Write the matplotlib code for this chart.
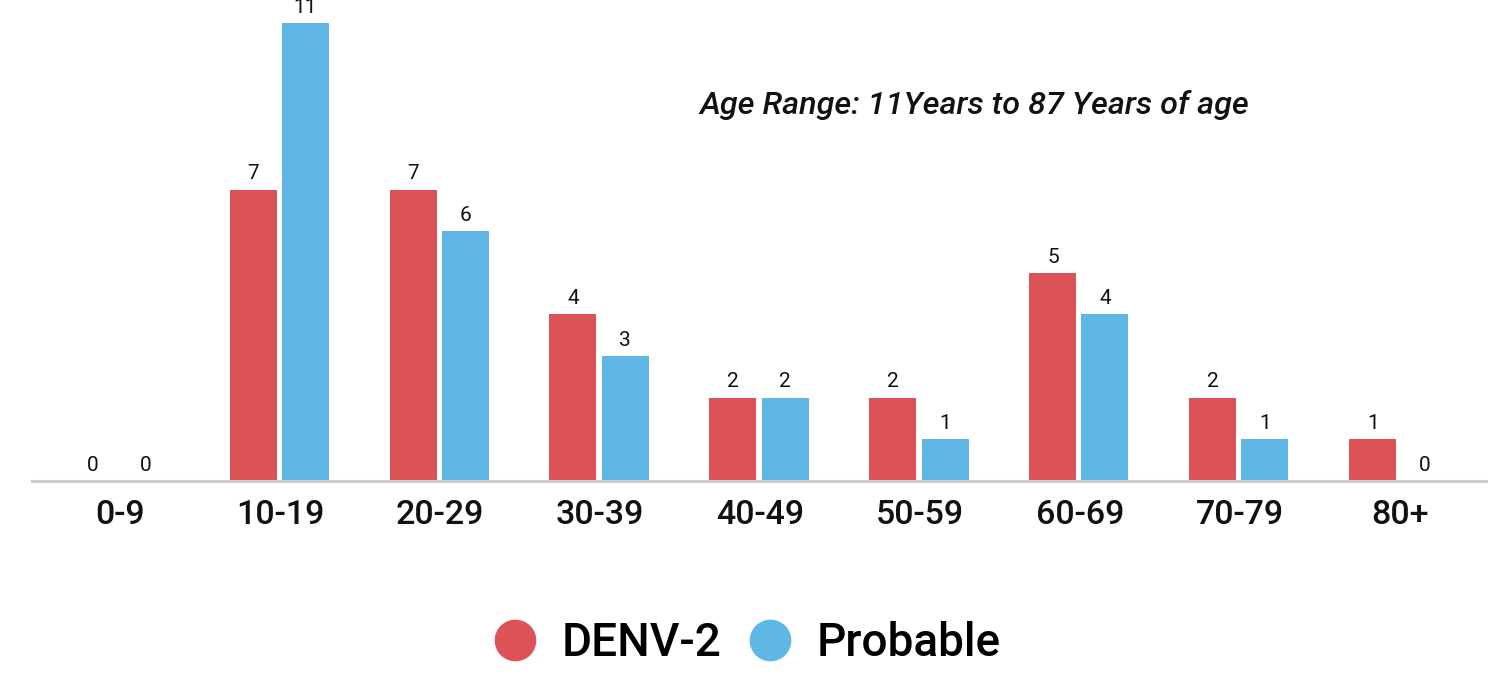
import matplotlib.pyplot as plt
import numpy as np
from matplotlib.lines import Line2D

## -------------------- Data
categories = ['0-9', '10-19', '20-29', '30-39', '40-49', '50-59', '60-69', '70-79', '80+']
denv2 = [0, 7, 7, 4, 2, 2, 5, 2, 1]
probable = [0, 11, 6, 3, 2, 1, 4, 1, 0]
series_names = ['DENV-2', 'Probable']
note = 'Age Range: 11Years to 87 Years of age'

red = '#DB5357'
blue = '#5EB7E5'

plt.rcParams['font.family'] = ['Roboto', 'DejaVu Sans']

## -------------------- Figure
fig = plt.figure(figsize=(15.02, 6.76), dpi=100)
ax = fig.add_axes([32 / 1502, 195 / 676, 1454 / 1502, 458 / 676])

x = np.arange(len(categories))
w = 0.294
off = 0.163
b1 = ax.bar(x - off - 0.005, denv2, w, color=red)
b2 = ax.bar(x + off - 0.005, probable, w, color=blue)

# value labels above each bar
for bars, vals in ((b1, denv2), (b2, probable)):
    for b, v in zip(bars, vals):
        ax.annotate(str(v), (b.get_x() + b.get_width() / 2, v), xytext=(0, 4.5),
                    textcoords='offset points', ha='center', va='bottom',
                    fontsize=15, color='#111111', clip_on=False)

ax.set_xlim(-0.55, 8.54)
ax.set_ylim(0, 11)
ax.set_xticks(x)
ax.set_xticklabels(categories, fontsize=24.5, fontweight='medium', color='#111111')
ax.tick_params(axis='x', length=0, pad=13)
ax.set_yticks([])
for s in ('top', 'right', 'left'):
    ax.spines[s].set_visible(False)
ax.spines['bottom'].set_color('#CCCCCC')
ax.spines['bottom'].set_linewidth(2.2)

fig.text(699 / 1502, 1 - 105 / 676, note, fontsize=23.3, style='italic',
         fontweight='medium', color='#111111', va='center', ha='left')

handles = [Line2D([], [], marker='o', linestyle='none', markersize=29,
                  markerfacecolor=c, markeredgecolor=c) for c in (red, blue)]
fig.legend(handles, series_names, loc='center', bbox_to_anchor=(0.497, 1 - 643 / 676),
           ncol=2, frameon=False, handlelength=1.0, handletextpad=0.52,
           columnspacing=0.57, prop={'size': 33, 'weight': 'medium'})

fig.savefig('out.png', dpi=100)
